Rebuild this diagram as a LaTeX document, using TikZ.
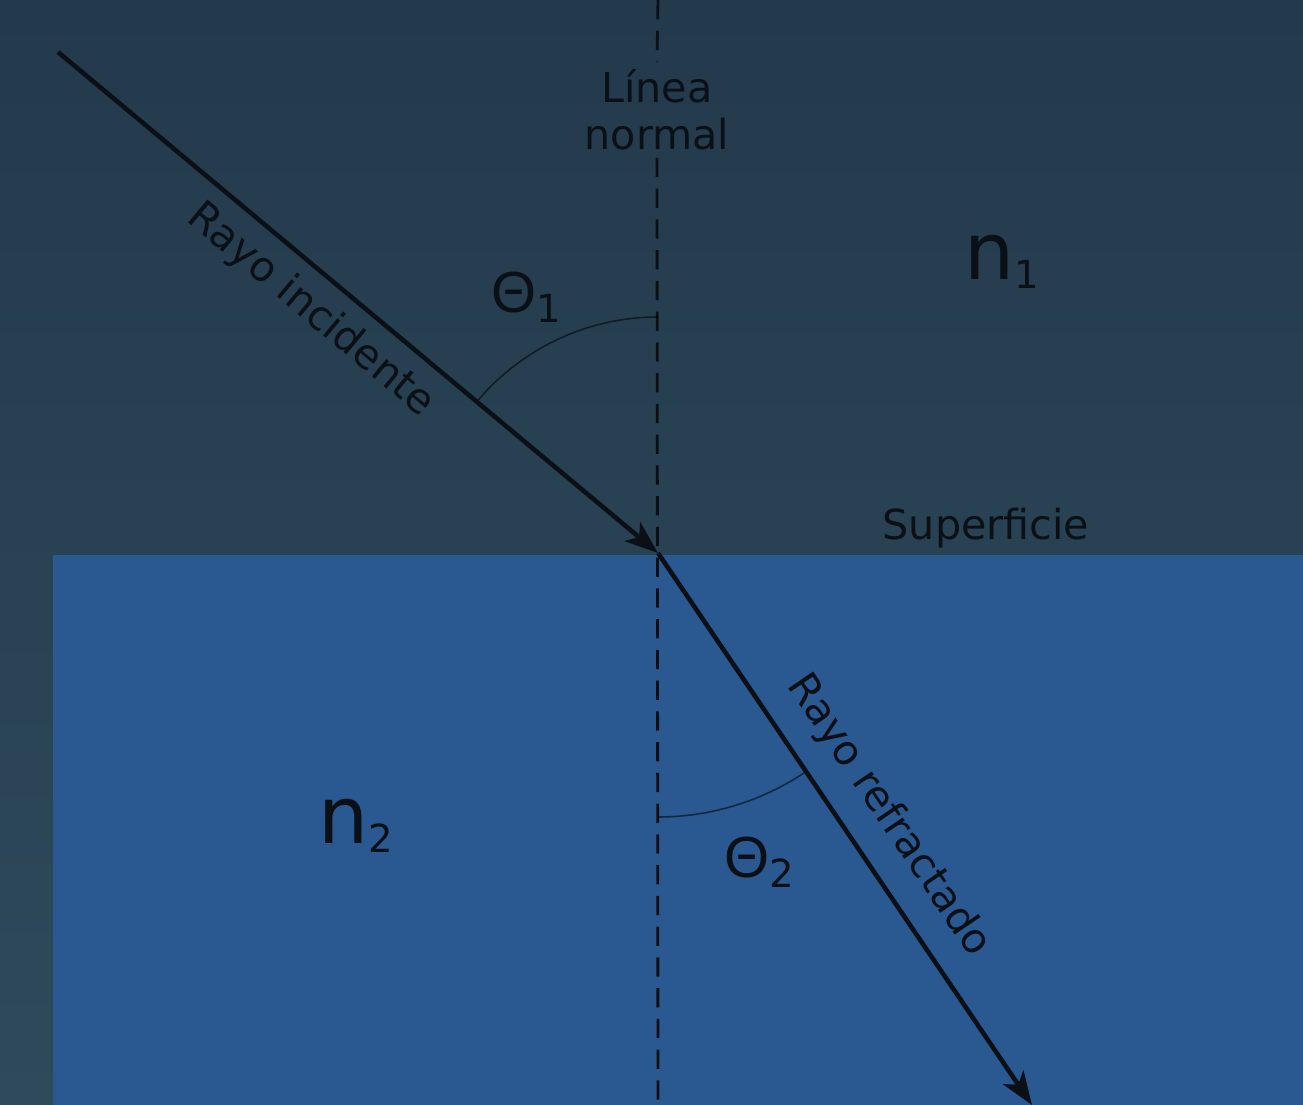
\documentclass[tikz,border=0pt]{standalone}
\usepackage{fontspec}
\setmainfont{DejaVu Sans}
\newfontfamily\greekfont{Liberation Sans}
\usetikzlibrary{arrows.meta}
\definecolor{bgtop}{HTML}{233A4C}
\definecolor{bgbot}{HTML}{2E4A5B}
\definecolor{water}{HTML}{2A5890}
\definecolor{ink}{HTML}{0B1016}
\tikzset{
  ray/.style={draw=ink, line width=2.6pt, -{Stealth[length=19pt,width=14pt,inset=5pt]}},
  normalline/.style={draw=ink, line width=1.6pt, dash pattern=on 11pt off 6.5pt},
  anglearc/.style={draw=black, draw opacity=0.55, line width=0.9pt},
  lbl/.style={text=ink, font=\fontsize{23.5}{27}\selectfont, inner sep=2pt},
  greek/.style={text=ink, inner sep=0pt},
  index/.style={text=ink, inner sep=0pt}
}
\newcommand{\bigsym}[4]{{\fontsize{#1}{#1}\selectfont #2}\raisebox{-5.5pt}{\fontsize{#4}{#4}\selectfont #3}}
\begin{document}
\begin{tikzpicture}[x=0.02cm,y=-0.02cm]
  \useasboundingbox (0,0) rectangle (1303,1105);
  \shade[top color=bgtop, bottom color=bgbot] (0,0) rectangle (1303,1105);
  \fill[water] (53,555) rectangle (1303,1105);

  \coordinate (O) at (658,553);
  \coordinate (A) at (58,52);
  \coordinate (B) at (1032,1105);
  \coordinate (Ntop) at (658,0);
  \coordinate (Nbot) at (658,1105);

  \node[lbl, align=center, inner sep=4pt] (normal) at (657,110) {Línea\\normal};
  \draw[normalline] (Ntop) -- (normal.north);
  \draw[normalline] (normal.south) -- (Nbot);

  % angle arcs
  \draw[anglearc] (O) ++(270:236) arc[start angle=270, end angle=219.9, radius=236];
  \draw[anglearc] (O) ++(90:264) arc[start angle=90, end angle=55.9, radius=264];

  % rays
  \draw[ray] (A) -- node[lbl, sloped, below=6pt, pos=0.46] (inc) {Rayo incidente} (O);
  \draw[ray] (O) -- node[lbl, sloped, above=10pt, pos=0.52] (refr) {Rayo refractado} (B);

  % labels
  \node[greek] (t1) at (526,297) {\bigsym{33}{\greekfont Θ}{1}{22}};
  \node[greek] (t2) at (759,862) {\bigsym{33}{\greekfont Θ}{2}{22}};
  \node[index] (n1) at (1002,262) {\bigsym{45}{n}{1}{22}};
  \node[index] (n2) at (356,826) {\bigsym{45}{n}{2}{22}};
  \node[lbl] (sup) at (986,528) {Superficie};
\end{tikzpicture}
\end{document}
